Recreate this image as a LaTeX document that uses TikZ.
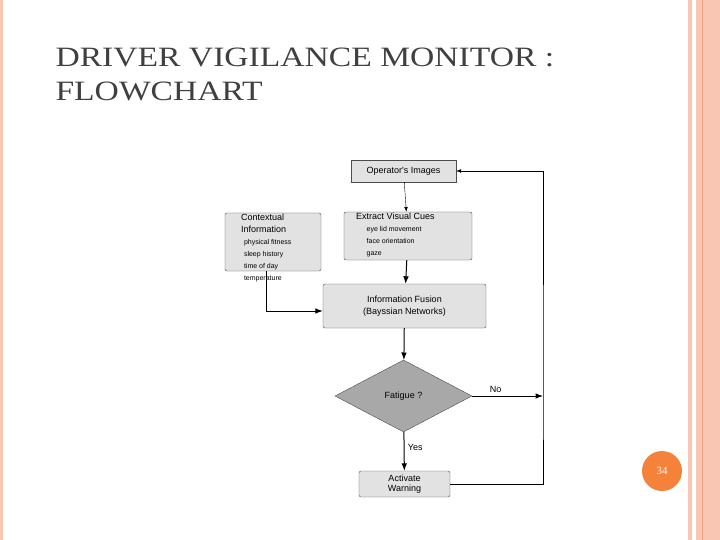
\documentclass[tikz,border=0pt]{standalone}
\usepackage{fontspec}
\setmainfont{Liberation Serif}
\newfontfamily\sansfont{Liberation Sans}
\newfontfamily\titlefont{Liberation Serif}[FakeStretch=1.2]
\usetikzlibrary{arrows.meta}
\usetikzlibrary{shapes.geometric}
\definecolor{salmon}{HTML}{F9C6B4}
\definecolor{salmondark}{HTML}{EFA27F}
\definecolor{pageorange}{HTML}{F5823A}
\definecolor{boxgray}{HTML}{E2E2E2}
\definecolor{diagray}{HTML}{A8A8A8}
\newcommand{\labfont}{\sansfont\fontsize{9}{9.5}\selectfont}
\newcommand{\subfont}{\sansfont\fontsize{7}{7.8}\selectfont}
\tikzset{
  box/.style={draw=black!70, fill=boxgray, rounded corners=2pt, font=\labfont, align=left},
  flow/.style={-Latex, line width=1pt},
}
\begin{document}
\begin{tikzpicture}[x=1pt, y=-1pt]
  \useasboundingbox (0,0) rectangle (720,540);
  \fill[salmon] (688,0) rectangle (692,540);
  \fill[salmon] (696,0) rectangle (720,540);
  \draw[salmondark, line width=0.8pt] (702,0) -- (702,540);
  \fill[salmon] (0,0) rectangle (3,540);

  \node[anchor=west, text=black!75, font=\titlefont\fontsize{28}{32}\selectfont] (title1) at (52,57) {DRIVER VIGILANCE MONITOR :};
  \node[anchor=west, text=black!75, font=\titlefont\fontsize{28}{32}\selectfont] (title2) at (52,91) {FLOWCHART};

  \node[box, rounded corners=0pt, minimum width=105pt, minimum height=22pt] (ops) at (403.5,171) {Operator's Images};
  \node[box, minimum width=128pt, minimum height=48pt] (cues) at (408,236) {};
  \node[align=left, anchor=north west, inner sep=0pt] (cuestxt) at (356,213)
    {\labfont Extract Visual Cues\\
     \subfont\hspace{1.5em}eye lid movement\\
     \subfont\hspace{1.5em}face orientation\\
     \subfont\hspace{1.5em}gaze};
  \node[box, minimum width=96pt, minimum height=58pt] (ctx) at (273,242) {};
  \node[align=left, anchor=north west, inner sep=0pt] (ctxtxt) at (241,214)
    {\labfont Contextual\\
     \labfont Information\\
     \subfont\hspace{0.4em}physical fitness\\
     \subfont\hspace{0.4em}sleep history\\
     \subfont\hspace{0.4em}time of day\\
     \subfont\hspace{0.4em}temperature};
  \node[box, align=center, minimum width=163pt, minimum height=44pt] (fusion) at (404.5,306)
    {Information Fusion\\[2pt](Bayssian Networks)};
  \node[diamond, draw=black!70, fill=diagray, minimum width=137pt, minimum height=72pt,
    inner sep=0pt, font=\labfont] (fat) at (403.5,396) {Fatigue ?};
  \node[box, align=center, minimum width=91pt, minimum height=26pt, inner sep=1pt] (warn) at (404.5,484)
    {Activate\\Warning};
  \coordinate (corner) at (266,311);
  \coordinate (noend) at (543,396);

  \draw[-Latex] (ops) -- (cues);
  \draw[flow] (cues) -- (fusion);
  \draw[flow] (ctx.south -| corner) -- (corner) -- (fusion.west |- corner);
  \draw[flow] (fusion) -- (fat);
  \draw[flow] (fat) -- node[right, font=\labfont, pos=0.4] {Yes} (warn);
  \draw[flow] (fat.east) -- node[above, font=\labfont, pos=0.33] {No} (noend);
  \draw[-Latex] (warn.east) -| (noend) |- (ops.east);

  \node[circle, fill=pageorange, minimum size=40pt, text=white, font=\fontsize{11}{12}\selectfont] (page) at (662,471) {34};
\end{tikzpicture}
\end{document}
